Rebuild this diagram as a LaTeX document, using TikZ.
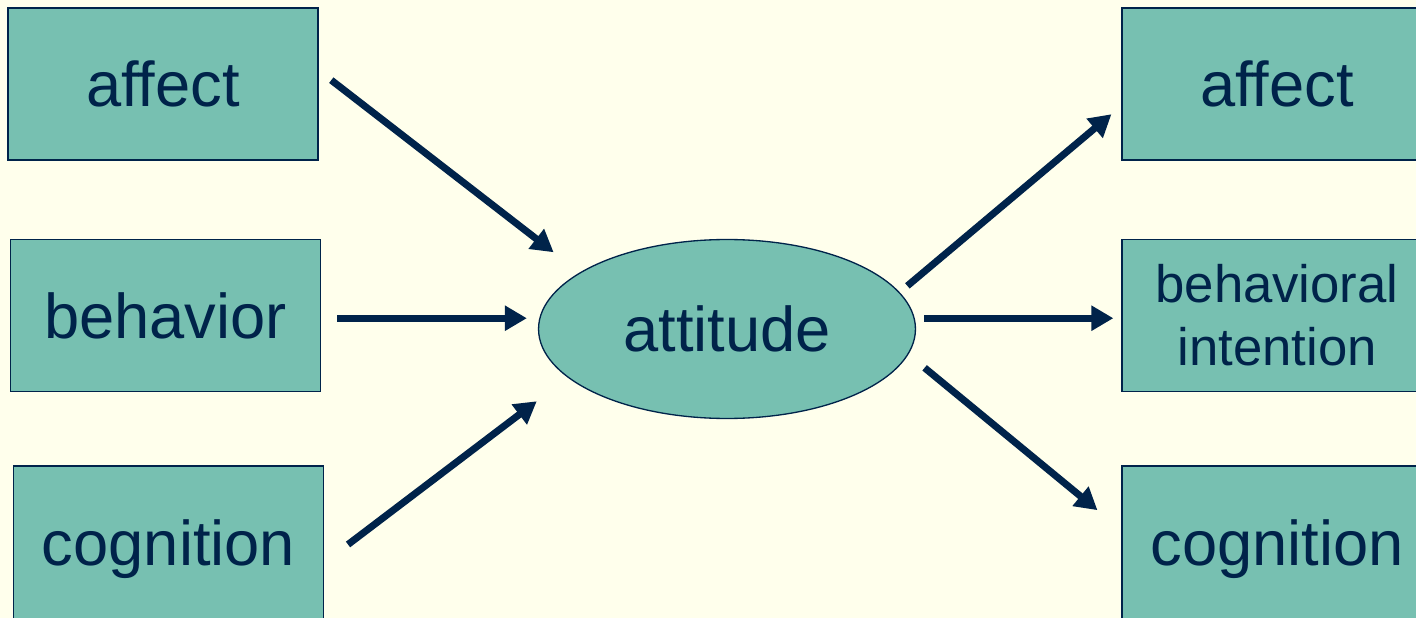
\documentclass[tikz,border=0pt]{standalone}
\usepackage{fontspec}
\setmainfont{Liberation Sans}
\usetikzlibrary{arrows.meta,shapes.geometric}
\definecolor{paper}{HTML}{FFFFEC}
\definecolor{boxfill}{HTML}{77C0B1}
\definecolor{ink}{HTML}{00234A}

\begin{document}
\begin{tikzpicture}[x=0.02cm,y=-0.02cm,>={Triangle[length=4.4mm,width=4.8mm]},
  bx/.style={draw=ink,line width=0.75pt,fill=boxfill,text=ink,inner sep=0pt,
    minimum width=62mm,minimum height=30.4mm,font=\fontsize{36}{43}\selectfont},
  ar/.style={->,draw=ink,fill=ink,line width=4pt}]
\path[use as bounding box,fill=paper] (0,0) rectangle (1416,618);
\clip (0,0) rectangle (1416,618);
% causes on the left
\node[bx] (affL) at (163,84) {affect};
\node[bx] (behL) at (165.5,315.5) {behavior};
\node[bx,minimum height=33.2mm] (cogL) at (168.5,549) {cognition};
% the attitude
\node[ellipse,draw=ink,line width=0.75pt,fill=boxfill,text=ink,inner sep=0pt,
  minimum width=75.4mm,minimum height=35.8mm,font=\fontsize{36}{43}\selectfont] (att) at (727,329) {attitude};
% outcomes on the right
\node[bx] (affR) at (1277,84) {affect};
\node[bx,align=center,font=\fontsize{30}{36}\selectfont] (intR) at (1277,315.5) {behavioral\\intention};
\node[bx,minimum height=33.2mm] (cogR) at (1277,549) {cognition};
\draw[ar,shorten <=3.2mm,shorten >=6.6mm] (affL.5) -- (att.159);
\draw[ar,shorten <=3.2mm,shorten >=2.2mm] (behL.-1.5) -- (behL.-1.5 -| att.west);
\draw[ar,shorten <=6mm,shorten >=7.8mm] (cogL.355) -- (att.197);
\draw[ar,shorten <=2mm,shorten >=2.6mm] (att.12) -- (affR.188);
\draw[ar,shorten <=1.6mm,shorten >=1.6mm] (intR.181.5 -| att.east) -- (intR.181.5);
\draw[ar,shorten <=4.2mm,shorten >=6.2mm] (att.352) -- (cogR.173);
\end{tikzpicture}
\end{document}
